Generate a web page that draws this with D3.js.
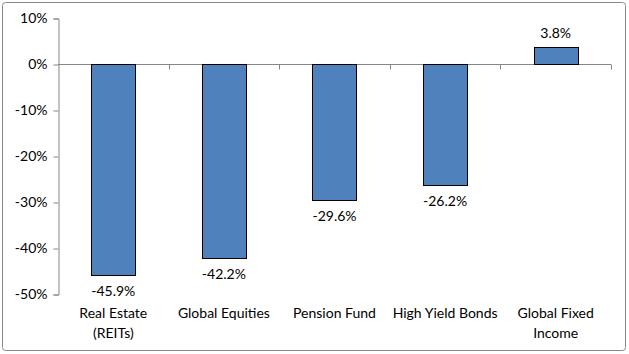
<!DOCTYPE html>
<html>
<head>
<meta charset="utf-8">
<script src="https://cdn.jsdelivr.net/npm/d3@7"></script>
<style>
  body { margin: 0; background: #fff; }
  svg text { font-family: "Lato", "Open Sans", sans-serif; fill: #000; }
</style>
</head>
<body>
<div class="chart"></div>
<script>
var categories = [["Real Estate", "(REITs)"], ["Global Equities"], ["Pension Fund"], ["High Yield Bonds"], ["Global Fixed", "Income"]];
var values = [-45.9, -42.2, -29.6, -26.2, 3.8];
var yTicks = [10, 0, -10, -20, -30, -40, -50];

var width = 629, height = 354;
var svg = d3.select(".chart").append("svg")
    .attr("width", width)
    .attr("height", height);

// outer frame
svg.append("rect")
    .attr("x", 2.5).attr("y", 2.5)
    .attr("width", 623).attr("height", 348)
    .attr("rx", 3)
    .attr("fill", "#fff")
    .attr("stroke", "#888")
    .attr("stroke-width", 1);

var left = 58, right = 611;
var x = d3.scaleBand()
    .domain(d3.range(categories.length))
    .range([left, right])
    .paddingInner(0.6)
    .paddingOuter(0.3);

var y = d3.scaleLinear().domain([-50, 10]).range([294, 18]);

// y axis
var yAxis = d3.axisLeft(y)
    .tickValues(yTicks)
    .tickFormat(function(d) { return d + "%"; })
    .tickSize(5)
    .tickPadding(6);

var gy = svg.append("g")
    .attr("transform", "translate(" + (left + 0.5) + ",0.5)")
    .call(yAxis);
gy.select(".domain").attr("stroke", "#868686");
gy.selectAll(".tick line").attr("stroke", "#868686");
gy.selectAll(".tick text").attr("font-size", 14).attr("fill", "#000");

// zero line with category boundary ticks
var zeroY = Math.round(y(0)) + 0.5;
svg.append("line")
    .attr("x1", left).attr("x2", right)
    .attr("y1", zeroY).attr("y2", zeroY)
    .attr("stroke", "#868686");

var step = (right - left) / categories.length;
svg.selectAll(".xtick")
    .data(d3.range(1, categories.length + 1))
    .enter().append("line")
    .attr("class", "xtick")
    .attr("x1", function(d) { return Math.round(left + d * step) + 0.5; })
    .attr("x2", function(d) { return Math.round(left + d * step) + 0.5; })
    .attr("y1", zeroY).attr("y2", zeroY + 5)
    .attr("stroke", "#868686");

// bars
svg.selectAll(".bar")
    .data(values)
    .enter().append("rect")
    .attr("class", "bar")
    .attr("x", function(d, i) { return Math.round(x(i)) + 0.5; })
    .attr("width", Math.round(x.bandwidth()))
    .attr("y", function(d) { return Math.round(y(Math.max(0, d))) + 0.5; })
    .attr("height", function(d) { return Math.round(Math.abs(y(d) - y(0))); })
    .attr("fill", "#4F81BD")
    .attr("stroke", "#000")
    .attr("stroke-width", 1);

// value labels
svg.selectAll(".val")
    .data(values)
    .enter().append("text")
    .attr("class", "val")
    .attr("x", function(d, i) { return x(i) + x.bandwidth() / 2; })
    .attr("y", function(d) { return d < 0 ? y(d) + 21 : y(d) - 9; })
    .attr("text-anchor", "middle")
    .attr("font-size", 14)
    .text(function(d) { return d.toFixed(1) + "%"; });

// category labels
var cat = svg.selectAll(".cat")
    .data(categories)
    .enter().append("text")
    .attr("class", "cat")
    .attr("text-anchor", "middle")
    .attr("font-size", 14)
    .attr("x", function(d, i) { return x(i) + x.bandwidth() / 2; })
    .attr("y", 318);

cat.selectAll("tspan")
    .data(function(d) { return d; })
    .enter().append("tspan")
    .attr("x", function() { return d3.select(this.parentNode).attr("x"); })
    .attr("dy", function(d, i) { return i === 0 ? 0 : 20; })
    .text(function(d) { return d; });
</script>
</body>
</html>
